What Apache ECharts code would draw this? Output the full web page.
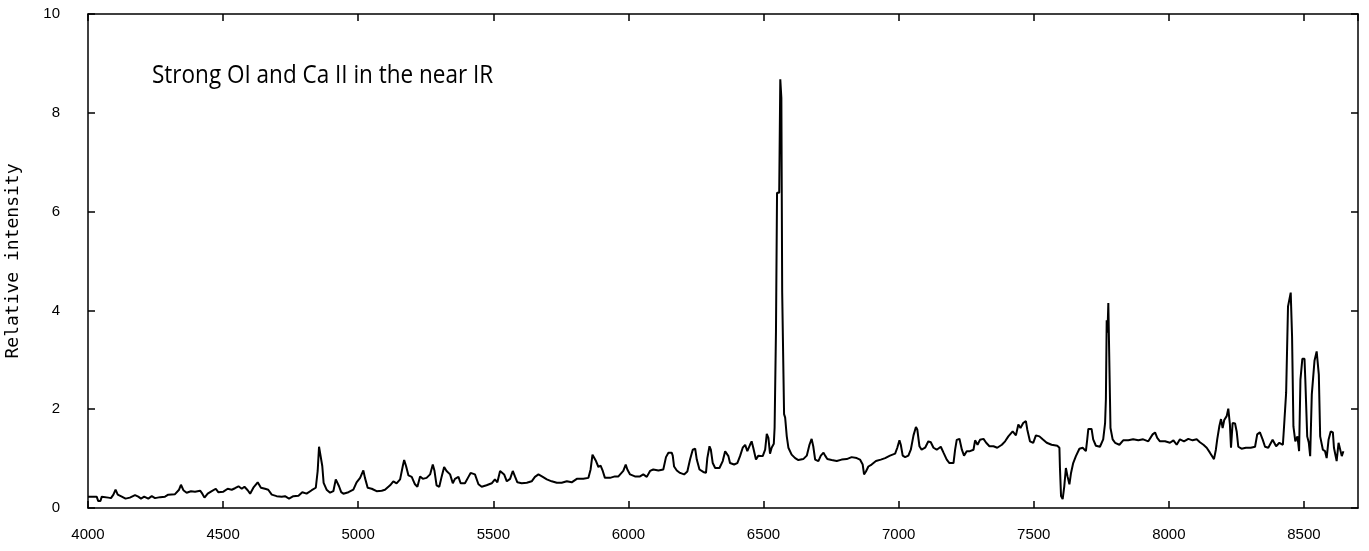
<!DOCTYPE html>
<html>
<head>
<meta charset="utf-8">
<script src="https://cdn.jsdelivr.net/npm/echarts@6/dist/echarts.min.js"></script>
<style>
  html, body { margin: 0; padding: 0; background: #fff; }
  #chart { width: 1369px; height: 551px; }
</style>
</head>
<body>
<div id="chart"></div>
<script>
// spectrum: wavelength (Angstrom) and relative intensity
const wavelength = [
  4000, 4032, 4038, 4046, 4051, 4057, 4075, 4085, 4094, 4102, 4110, 4125, 4139, 4155, 4174, 4186,
  4196, 4208, 4223, 4236, 4248, 4267, 4285, 4297, 4322, 4337, 4344, 4353, 4365, 4381, 4396, 4415,
  4423, 4431, 4443, 4458, 4473, 4482, 4501, 4517, 4532, 4544, 4557, 4569, 4579, 4591, 4600, 4612,
  4628, 4640, 4655, 4667, 4680, 4698, 4717, 4729, 4744, 4760, 4779, 4793, 4809, 4828, 4843, 4850,
  4855, 4862, 4867, 4872, 4883, 4896, 4908, 4917, 4923, 4929, 4937, 4945, 4964, 4982, 4994, 5007,
  5019, 5025, 5035, 5050, 5068, 5087, 5099, 5118, 5130, 5142, 5155, 5165, 5170, 5177, 5186, 5198,
  5210, 5219, 5229, 5239, 5253, 5266, 5276, 5282, 5290, 5300, 5309, 5318, 5327, 5340, 5350, 5358,
  5371, 5379, 5395, 5408, 5416, 5432, 5445, 5457, 5475, 5494, 5506, 5515, 5525, 5531, 5540, 5550,
  5562, 5572, 5580, 5589, 5605, 5624, 5642, 5654, 5667, 5683, 5698, 5716, 5735, 5753, 5772, 5790,
  5809, 5833, 5852, 5860, 5867, 5873, 5880, 5889, 5897, 5905, 5913, 5932, 5950, 5963, 5981, 5990,
  5996, 6006, 6024, 6043, 6055, 6068, 6080, 6092, 6111, 6129, 6139, 6148, 6160, 6164, 6169, 6179,
  6191, 6206, 6218, 6228, 6238, 6247, 6253, 6263, 6277, 6287, 6292, 6300, 6305, 6312, 6321, 6337,
  6349, 6358, 6364, 6370, 6376, 6391, 6403, 6413, 6423, 6432, 6440, 6450, 6456, 6462, 6472, 6481,
  6497, 6506, 6512, 6518, 6524, 6530, 6538, 6541, 6546, 6550, 6558, 6562, 6566, 6569, 6572, 6576,
  6580, 6586, 6592, 6604, 6617, 6629, 6647, 6660, 6670, 6678, 6684, 6691, 6703, 6712, 6722, 6728,
  6736, 6752, 6771, 6789, 6808, 6826, 6845, 6857, 6867, 6872, 6879, 6888, 6900, 6916, 6934, 6950,
  6968, 6987, 6995, 7003, 7008, 7015, 7024, 7036, 7045, 7055, 7064, 7069, 7077, 7085, 7098, 7110,
  7119, 7129, 7141, 7156, 7166, 7178, 7188, 7203, 7209, 7215, 7225, 7234, 7242, 7252, 7264, 7277,
  7283, 7292, 7301, 7314, 7324, 7336, 7351, 7365, 7382, 7394, 7406, 7422, 7434, 7443, 7451, 7461,
  7471, 7476, 7486, 7498, 7508, 7521, 7533, 7548, 7566, 7587, 7595, 7597, 7601, 7607, 7613, 7619,
  7625, 7632, 7638, 7646, 7656, 7669, 7681, 7693, 7698, 7702, 7714, 7720, 7730, 7745, 7757, 7764,
  7767, 7770, 7773, 7776, 7780, 7784, 7788, 7792, 7801, 7817, 7831, 7850, 7868, 7887, 7905, 7924,
  7940, 7949, 7957, 7967, 7986, 8004, 8017, 8029, 8041, 8056, 8072, 8088, 8103, 8115, 8128, 8140,
  8152, 8167, 8174, 8179, 8187, 8193, 8199, 8205, 8214, 8220, 8226, 8230, 8236, 8245, 8251, 8257,
  8269, 8285, 8303, 8319, 8327, 8337, 8347, 8356, 8368, 8384, 8397, 8409, 8422, 8426, 8434, 8441,
  8451, 8456, 8461, 8468, 8476, 8482, 8487, 8494, 8502, 8505, 8512, 8518, 8523, 8529, 8539, 8547,
  8555, 8560, 8570, 8578, 8584, 8591, 8599, 8607, 8611, 8621, 8628, 8634, 8640, 8646
];
const intensity = [
  0.23, 0.23, 0.14, 0.14, 0.23, 0.25, 0.21, 0.20, 0.27, 0.37, 0.27, 0.23, 0.19, 0.21, 0.26, 0.23,
  0.19, 0.23, 0.19, 0.24, 0.20, 0.22, 0.23, 0.27, 0.28, 0.37, 0.47, 0.36, 0.31, 0.34, 0.33, 0.35,
  0.29, 0.21, 0.29, 0.34, 0.39, 0.32, 0.33, 0.39, 0.37, 0.40, 0.44, 0.39, 0.43, 0.36, 0.29, 0.41,
  0.52, 0.41, 0.39, 0.37, 0.27, 0.24, 0.23, 0.24, 0.19, 0.24, 0.25, 0.32, 0.29, 0.36, 0.41, 0.75,
  1.24, 1.20, 0.85, 0.51, 0.37, 0.31, 0.34, 0.58, 0.59, 0.44, 0.32, 0.29, 0.32, 0.37, 0.52, 0.61,
  0.76, 0.61, 0.41, 0.39, 0.34, 0.35, 0.37, 0.46, 0.54, 0.50, 0.58, 0.85, 0.97, 0.85, 0.66, 0.63,
  0.48, 0.43, 0.64, 0.59, 0.61, 0.68, 0.88, 0.76, 0.46, 0.43, 0.64, 0.83, 0.75, 0.68, 0.50, 0.59,
  0.63, 0.50, 0.50, 0.63, 0.71, 0.68, 0.48, 0.43, 0.46, 0.50, 0.58, 0.52, 0.75, 0.79, 0.68, 0.54,
  0.59, 0.75, 0.64, 0.52, 0.50, 0.51, 0.54, 0.63, 0.68, 0.63, 0.58, 0.54, 0.51, 0.51, 0.54, 0.52,
  0.59, 0.59, 0.61, 0.78, 1.08, 1.12, 0.95, 0.83, 0.86, 0.75, 0.61, 0.61, 0.64, 0.64, 0.75, 0.88,
  0.78, 0.68, 0.64, 0.64, 0.68, 0.63, 0.75, 0.78, 0.76, 0.78, 1.03, 1.12, 1.12, 1.06, 0.84, 0.76,
  0.71, 0.68, 0.74, 0.98, 1.18, 1.20, 0.98, 0.78, 0.73, 0.71, 1.01, 1.25, 1.18, 0.91, 0.81, 0.81,
  0.95, 1.15, 1.18, 1.05, 0.91, 0.88, 0.91, 1.05, 1.22, 1.28, 1.15, 1.28, 1.35, 1.22, 0.98, 1.06,
  1.05, 1.18, 1.50, 1.42, 1.10, 1.22, 1.30, 1.63, 3.57, 6.38, 6.38, 8.68, 8.30, 4.38, 4.38, 1.90,
  1.83, 1.45, 1.22, 1.08, 1.01, 0.97, 0.99, 1.06, 1.28, 1.40, 1.25, 0.98, 0.95, 1.06, 1.12, 1.06,
  0.99, 0.97, 0.95, 0.98, 0.99, 1.03, 1.01, 0.98, 0.88, 0.68, 0.74, 0.84, 0.88, 0.95, 0.98, 1.01,
  1.06, 1.10, 1.22, 1.37, 1.28, 1.06, 1.03, 1.06, 1.18, 1.47, 1.64, 1.59, 1.25, 1.18, 1.22, 1.35,
  1.33, 1.22, 1.18, 1.24, 1.12, 0.98, 0.91, 0.91, 1.18, 1.38, 1.40, 1.18, 1.06, 1.15, 1.15, 1.18,
  1.37, 1.28, 1.38, 1.40, 1.32, 1.25, 1.25, 1.22, 1.28, 1.35, 1.45, 1.55, 1.47, 1.69, 1.62, 1.72,
  1.76, 1.59, 1.35, 1.32, 1.47, 1.45, 1.39, 1.32, 1.28, 1.26, 1.22, 0.81, 0.24, 0.18, 0.44, 0.81,
  0.64, 0.48, 0.71, 0.91, 1.05, 1.20, 1.22, 1.15, 1.39, 1.60, 1.60, 1.39, 1.26, 1.24, 1.39, 1.72,
  2.20, 3.80, 3.55, 4.15, 4.15, 1.62, 1.62, 1.39, 1.32, 1.28, 1.37, 1.37, 1.39, 1.37, 1.39, 1.35,
  1.49, 1.53, 1.42, 1.35, 1.35, 1.32, 1.37, 1.28, 1.39, 1.35, 1.40, 1.37, 1.39, 1.33, 1.28, 1.22,
  1.12, 0.99, 1.18, 1.39, 1.66, 1.80, 1.62, 1.78, 1.86, 2.01, 1.69, 1.22, 1.72, 1.71, 1.55, 1.24,
  1.20, 1.22, 1.22, 1.24, 1.49, 1.53, 1.39, 1.24, 1.22, 1.38, 1.25, 1.32, 1.28, 1.62, 2.33, 4.08,
  4.36, 3.47, 1.65, 1.35, 1.45, 1.15, 2.60, 3.02, 3.02, 2.60, 1.45, 1.32, 1.05, 2.30, 2.98, 3.17,
  2.70, 1.45, 1.18, 1.15, 1.01, 1.38, 1.55, 1.53, 1.22, 0.95, 1.32, 1.32, 1.05, 1.15
];
const xTicks = { min: 4000, max: 8700, step: 500 };
const yTicks = { min: 0, max: 10, step: 2 };
const yTitle = "Relative intensity";
const note = "Strong OI and Ca II in the near IR";

const chart = echarts.init(document.getElementById("chart"));

const tickFont = { color: "#000", fontSize: 15, fontFamily: "Liberation Sans" };
const frameLine = { show: true, onZero: false, lineStyle: { color: "#000", width: 1.5 } };
const innerTick = { show: true, inside: true, length: 7, lineStyle: { color: "#000", width: 1.5 } };

const options = {
  animation: false,
  backgroundColor: "#fff",
  grid: { left: 88, right: 11, top: 14, bottom: 43, outerBoundsMode: "none" },
  xAxis: [
    {
      type: "value",
      min: xTicks.min,
      max: xTicks.max,
      interval: xTicks.step,
      axisLine: frameLine,
      axisTick: innerTick,
      axisLabel: { ...tickFont, margin: 19, showMaxLabel: false, formatter: (v) => String(v) },
      splitLine: { show: false },
    },
    {
      type: "value",
      position: "top",
      min: xTicks.min,
      max: xTicks.max,
      interval: xTicks.step,
      axisLine: frameLine,
      axisTick: innerTick,
      axisLabel: { show: false },
      splitLine: { show: false },
    },
  ],
  yAxis: [
    {
      type: "value",
      min: yTicks.min,
      max: yTicks.max,
      interval: yTicks.step,
      axisLine: frameLine,
      axisTick: innerTick,
      axisLabel: { ...tickFont, margin: 28 },
      splitLine: { show: false },
      name: yTitle,
      nameLocation: "middle",
      nameRotate: 90,
      nameGap: 66,
      nameTextStyle: { color: "#000", fontSize: 18, fontFamily: "DejaVu Sans Mono" },
    },
    {
      type: "value",
      position: "right",
      min: yTicks.min,
      max: yTicks.max,
      interval: yTicks.step,
      axisLine: frameLine,
      axisTick: innerTick,
      axisLabel: { show: false },
      splitLine: { show: false },
    },
  ],
  graphic: [
    {
      type: "text",
      left: 152,
      top: 63,
      scaleX: 0.9,
      style: { text: note, fill: "#000", font: '25px "Open Sans"' },
    },
  ],
  series: [
    {
      type: "line",
      xAxisIndex: 0,
      yAxisIndex: 0,
      showSymbol: false,
      lineStyle: { color: "#000", width: 2 },
      data: wavelength.map((w, i) => [w, intensity[i]]),
    },
  ],
};

chart.setOption(options);
</script>
</body>
</html>
